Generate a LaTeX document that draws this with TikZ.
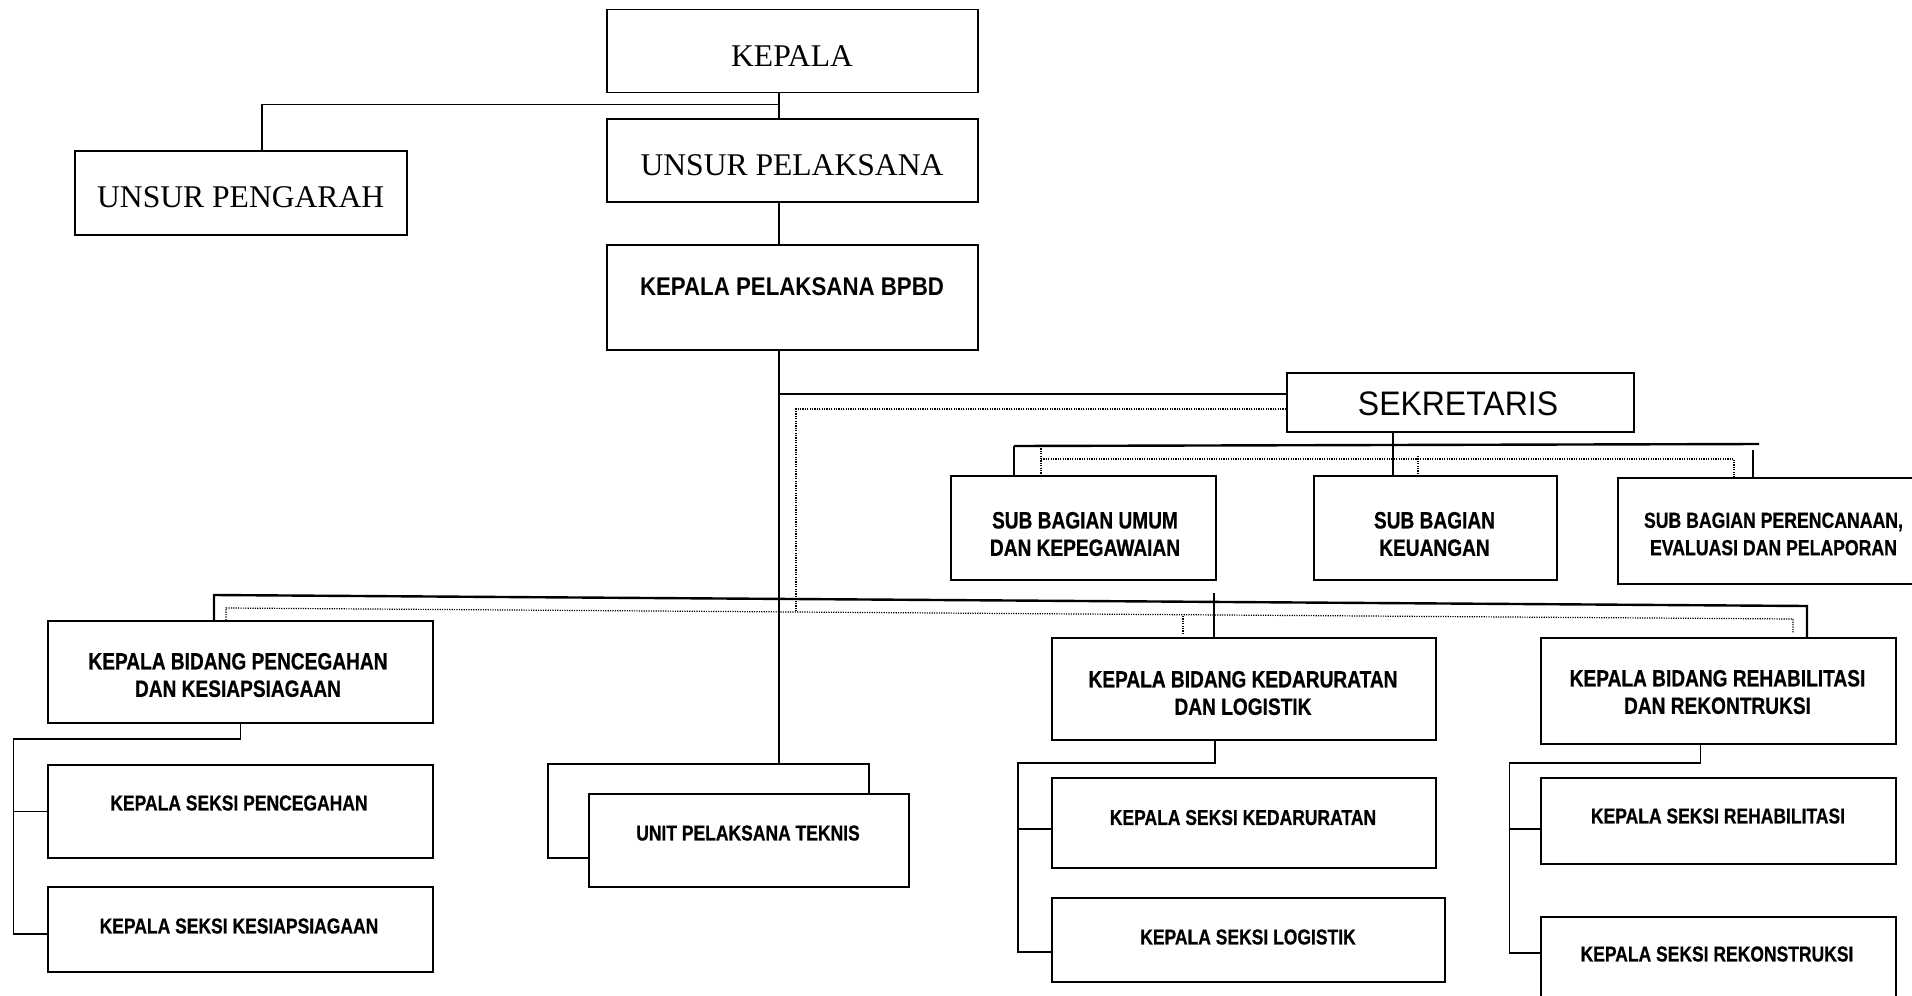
\documentclass[tikz,border=0pt]{standalone}
\usepackage{fontspec}
\setmainfont{Liberation Serif}
\newfontfamily\sanssek[FakeStretch=0.94]{Liberation Sans}
\newfontfamily\sanskalak[FakeStretch=0.87]{Liberation Sans}
\newfontfamily\sanssempit[FakeStretch=0.81, BoldFeatures={FakeBold=0.6}]{Liberation Sans}

\begin{document}
\begin{tikzpicture}[x=0.5pt,y=-0.5pt]
\tikzstyle{every node}+=[inner sep=0pt]
\tikzstyle{kotak}=[draw, line width=0.9pt, anchor=north west]
\tikzstyle{tebal}=[line width=1.2pt]
\tikzstyle{tipis}=[line width=0.6pt]
\tikzstyle{titik}=[line width=0.6pt, dash pattern=on 0.6pt off 0.6pt]
\tikzstyle{serif}=[font=\fontsize{15.8}{18}\selectfont]
\tikzstyle{bidang}=[align=center, font=\sanssempit\bfseries\fontsize{11.8}{13.7}\selectfont]
\tikzstyle{seksi}=[align=center, font=\sanssempit\bfseries\fontsize{10.8}{12.5}\selectfont]
\useasboundingbox (0,0) rectangle (1912,996);
\node[kotak, minimum width=185.5pt, minimum height=41.5pt] (kepala) at (606,8.5) {};
\node[kotak, minimum width=185.5pt, minimum height=41.5pt] (pelaksana) at (606,118) {};
\node[kotak, minimum width=166pt, minimum height=42pt] (pengarah) at (74,150) {};
\node[kotak, minimum width=185.5pt, minimum height=52.5pt] (kalak) at (606,244) {};
\node[kotak, minimum width=173.5pt, minimum height=29.5pt] (sekretaris) at (1286,372) {};
\node[kotak, minimum width=132.5pt, minimum height=52pt] (umum) at (950,475) {};
\node[kotak, minimum width=121.5pt, minimum height=52pt] (keuangan) at (1313,475) {};
\node[kotak, minimum width=154pt, minimum height=53pt] (perencanaan) at (1617,477) {};
\node[kotak, minimum width=192.5pt, minimum height=51pt] (cegah) at (47,620) {};
\node[kotak, minimum width=192pt, minimum height=51pt] (darurat) at (1051,637) {};
\node[kotak, minimum width=177.5pt, minimum height=53pt] (rehab) at (1540,637) {};
\node[kotak, minimum width=192.5pt, minimum height=46.5pt] (ksCegah) at (47,764) {};
\node[kotak, minimum width=192.5pt, minimum height=42.5pt] (ksSiaga) at (47,886) {};
\node[kotak, minimum width=160.5pt, minimum height=47pt] (uptb) at (547,763) {};
\node[kotak, fill=white, minimum width=160pt, minimum height=46.5pt] (upt) at (588,793) {};
\node[kotak, minimum width=192pt, minimum height=45pt] (ksDarurat) at (1051,777) {};
\node[kotak, minimum width=196.5pt, minimum height=42pt] (ksLogistik) at (1051,897) {};
\node[kotak, minimum width=177.5pt, minimum height=43pt] (ksRehab) at (1540,777) {};
\node[kotak, minimum width=177.5pt, minimum height=47pt] (ksRekon) at (1540,916) {};
\node[serif] (kepalaTeks) at (792,56) {KEPALA};
\node[serif] (pelaksanaTeks) at (792,165.5) {UNSUR PELAKSANA};
\node[serif] (pengarahTeks) at (240.7,196.7) {UNSUR PENGARAH};
\node[font=\sanskalak\bfseries\fontsize{12.8}{14}\selectfont] (kalakTeks) at (792,287) {KEPALA PELAKSANA BPBD};
\node[font=\sanssek\fontsize{17}{19}\selectfont] (sekretarisTeks) at (1458,404) {SEKRETARIS};
\node[bidang] (umumTeks) at (1085,534) {SUB BAGIAN UMUM\\DAN KEPEGAWAIAN};
\node[bidang] (keuanganTeks) at (1434.5,534) {SUB BAGIAN\\KEUANGAN};
\node[bidang, font=\sanssempit\bfseries\fontsize{10.9}{13.7}\selectfont] (perencanaanTeks) at (1773.5,534) {SUB BAGIAN PERENCANAAN,\\EVALUASI DAN PELAPORAN};
\node[bidang] (cegahTeks) at (238,675) {KEPALA BIDANG PENCEGAHAN\\DAN KESIAPSIAGAAN};
\node[bidang] (daruratTeks) at (1243,693) {KEPALA BIDANG KEDARURATAN\\DAN LOGISTIK};
\node[bidang] (rehabTeks) at (1717.5,692) {KEPALA BIDANG REHABILITASI\\DAN REKONTRUKSI};
\node[seksi] (ksCegahTeks) at (239,803) {KEPALA SEKSI PENCEGAHAN};
\node[seksi] (ksSiagaTeks) at (239,926) {KEPALA SEKSI KESIAPSIAGAAN};
\node[seksi] (uptTeks) at (748,833) {UNIT PELAKSANA TEKNIS};
\node[seksi] (ksDaruratTeks) at (1243,817.5) {KEPALA SEKSI KEDARURATAN};
\node[seksi] (ksLogistikTeks) at (1248,937) {KEPALA SEKSI LOGISTIK};
\node[seksi] (ksRehabTeks) at (1718,816) {KEPALA SEKSI REHABILITASI};
\node[seksi] (ksRekonTeks) at (1717,954) {KEPALA SEKSI REKONSTRUKSI};
\coordinate (batang) at (779,0);
\draw[tipis] (kepala.south -| batang) -- (pelaksana.north -| batang);
\draw[tipis] (kepala.south -| batang) ++(0,11.5) -| ([xshift=10.5pt]pengarah.north);
\draw[tipis] (pelaksana.south -| batang) -- (kalak.north -| batang);
\draw[tipis] (kalak.south -| batang) -- (uptb.north -| batang);
\coordinate (sekKiri) at ([yshift=4.25pt]sekretaris.west);
\coordinate (sekTitik) at ([yshift=-3.25pt]sekretaris.west);
\draw[tebal] (sekKiri) -- (sekKiri -| batang);
\draw[titik] (sekTitik) -| (796,612);
\coordinate (sbKiri) at (1014,446);
\coordinate (sbKanan) at (1759,444);
\draw[tebal] (sbKiri) -- (sbKanan);
\draw[tebal] (sbKiri) -- (sbKiri |- umum.north);
\coordinate (sekBawah) at ([xshift=-33.75pt]sekretaris.south);
\draw[tipis] (sekBawah) -- (sekBawah |- keuangan.north);
\draw[tebal] (1753,450) -- (perencanaan.north -| 1753,450);
\coordinate (dsKiri) at (1041,459);
\coordinate (dsKanan) at (1734,459);
\draw[titik] (dsKiri) -- (dsKanan) -- (dsKanan |- perencanaan.north);
\draw[titik] (sbKiri -| dsKiri) -- (dsKiri |- umum.north);
\draw[titik] (1418,456) -- (keuangan.north -| 1418,456);
\coordinate (bKiri) at (214,595);
\coordinate (bKanan) at (1807,606);
\draw[tebal] (bKiri |- cegah.north) -- (bKiri) -- (bKanan) -- (bKanan |- rehab.north);
\draw[tipis] (1214,593) -- (darurat.north -| 1214,593);
\coordinate (tKiri) at (226,608);
\coordinate (tKanan) at (1793,619);
\draw[titik] (tKiri |- cegah.north) -- (tKiri) -- (tKanan) -- (1793,633);
\draw[titik] (1183,616) -- (1183,633);
\coordinate (cKiri) at (13.5,739);
\draw[tipis] (cegah.south) |- (cKiri) |- ([yshift=-2.25pt]ksSiaga.west);
\draw[tipis] (cKiri |- ksCegah.west) -- (ksCegah.west);
\coordinate (dKiri) at (1018,763);
\coordinate (ksDaruratKiri) at ([yshift=-3pt]ksDarurat.west);
\draw[tipis] ([xshift=-14.5pt]darurat.south) |- (dKiri) |- ([yshift=-6pt]ksLogistik.west);
\draw[tipis] (ksDaruratKiri -| dKiri) -- (ksDaruratKiri);
\coordinate (rKiri) at (1509.5,763);
\coordinate (ksRehabKiri) at ([yshift=-4pt]ksRehab.west);
\draw[tipis] ([xshift=-9pt]rehab.south) |- (rKiri) |- ([yshift=5.5pt]ksRekon.west);
\draw[tipis] (ksRehabKiri -| rKiri) -- (ksRehabKiri);
\end{tikzpicture}
\end{document}
